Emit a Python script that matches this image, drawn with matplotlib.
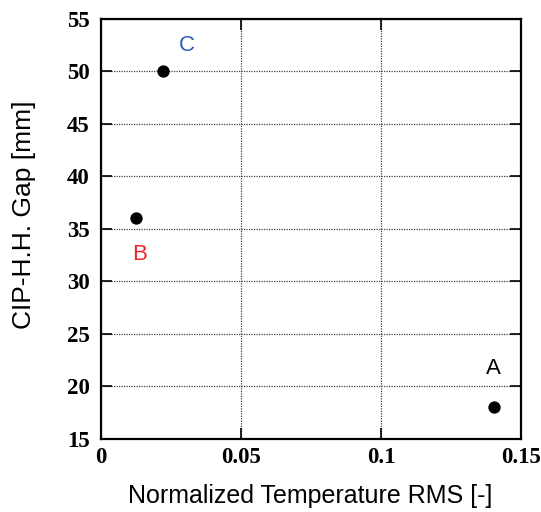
import matplotlib
matplotlib.use("Agg")
import matplotlib.pyplot as plt

# ------- data -------
labels = ["A", "B", "C"]
temp_rms = [0.1404, 0.0125, 0.0221]
gap_mm = [18, 36, 50]
label_colors = ["black", "#e8262b", "#2f5fb3"]
# where each letter sits
label_x = [0.1403, 0.0137, 0.0307]
label_y = [21.7, 32.6, 52.5]

x_ticks = [0, 0.05, 0.1, 0.15]
x_tick_labels = ["0", "0.05", "0.1", "0.15"]
y_ticks = [15, 20, 25, 30, 35, 40, 45, 50, 55]

fig = plt.figure(figsize=(5.41, 5.12), dpi=100)
ax = fig.add_axes([0.1867, 0.1426, 0.7763, 0.8203])

ax.scatter(temp_rms, gap_mm, s=62, color="black", zorder=3)
for lab, x, y, c in zip(labels, label_x, label_y, label_colors):
    ax.text(x, y, lab, color=c, fontsize=16, ha="center", va="center",
            family="Liberation Sans")

ax.set_xlim(0, 0.15)
ax.set_ylim(15, 55)
ax.set_xticks(x_ticks)
ax.set_xticklabels(x_tick_labels)
ax.set_yticks(y_ticks)

ax.grid(True, linestyle=(0, (1, 1)), color="#444444", linewidth=0.9)
ax.set_axisbelow(True)
for s in ax.spines.values():
    s.set_linewidth(1.6)

ax.tick_params(direction="in", length=8, width=1.2, top=True, right=True)
ax.tick_params(axis="y", pad=8)
ax.tick_params(axis="x", pad=6)
for t in ax.get_xticklabels() + ax.get_yticklabels():
    t.set_family("Liberation Serif")
    t.set_fontweight("bold")
    t.set_fontsize(16.5)

ax.set_xlabel("Normalized Temperature RMS [-]", fontsize=18,
              family="Liberation Sans")
ax.set_ylabel("CIP-H.H. Gap [mm]", fontsize=19,
              family="Liberation Sans")
ax.xaxis.set_label_coords(0.499, -0.108)
ax.yaxis.set_label_coords(-0.155, 0.535)

fig.savefig("out.png", dpi=100)
